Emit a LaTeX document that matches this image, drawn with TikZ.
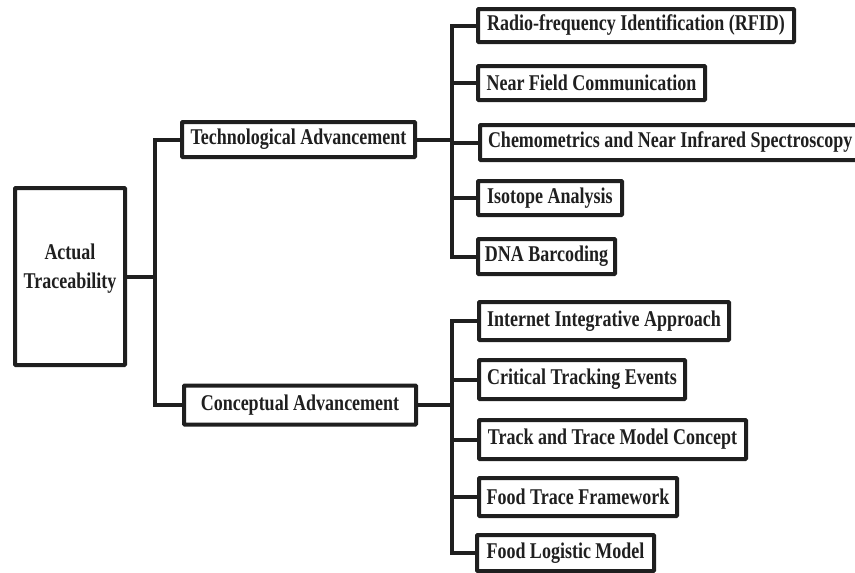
\documentclass[tikz,border=0pt]{standalone}
\usepackage{fontspec}
\setmainfont{Liberation Serif}[FakeStretch=0.8]
\colorlet{ink}{black!88}
\tikzset{
  txt/.style={font=\bfseries\fontsize{22.5}{26}\selectfont, text=ink},
  box/.style={txt, draw=ink, line width=4pt, rounded corners=0.8pt, fill=white,
    inner sep=0pt},
  link/.style={draw=ink, line width=4pt, line join=miter}
}
\begin{document}
\begin{tikzpicture}[x=1pt, y=-1pt]
\useasboundingbox (0,0) rectangle (855,573);

% root
\node[box, minimum width=110pt, minimum height=177pt] (root) at (70,276.5) {};
\node[txt, align=center] (roottext) at ([yshift=8pt]root.center) {Actual\\[3pt]Traceability};

% second level
\node[box, minimum width=233pt, minimum height=35pt] (tech) at (298.5,139.5) {Technological Advancement};
\node[box, minimum width=232pt, minimum height=39pt] (concept) at (300,405) {Conceptual Advancement};

% technological leaves (the widest one runs past the right margin)
\node[box, minimum width=316pt, minimum height=33pt] (rfid) at (636,25.5) {Radio-frequency Identification (RFID)};
\node[box, minimum width=227pt, minimum height=34pt] (nfc) at (591.5,83) {Near Field Communication};
\node[box, minimum height=35pt, anchor=west, inner xsep=8pt] (chemo) at (478,142.5) {Chemometrics and Near Infrared Spectroscopy\hspace*{24pt}};
\node[box, minimum width=144pt, minimum height=34pt] (iso) at (550,198) {Isotope Analysis};
\node[box, minimum width=137pt, minimum height=35pt] (dna) at (546.5,256.5) {DNA Barcoding};

% conceptual leaves
\node[box, minimum width=250pt, minimum height=38pt] (inet) at (604,321) {Internet Integrative Approach};
\node[box, minimum width=206pt, minimum height=39pt] (cte) at (582,379.5) {Critical Tracking Events};
\node[box, minimum width=267pt, minimum height=39pt] (track) at (612.5,439.5) {Track and Trace Model Concept};
\node[box, minimum width=198pt, minimum height=38pt] (ftf) at (578,497) {Food Trace Framework};
\node[box, minimum width=177pt, minimum height=36pt] (flm) at (565.5,553) {Food Logistic Model};

% junction columns
\coordinate (trunk) at (155,0);
\coordinate (tbus) at (452,0);

% root to second level
\draw[link] (root.east) -- (root.east -| trunk);
\draw[link] (tech.west) -- (tech.west -| trunk) -- (concept.west -| trunk) -- (concept.west);

% technological branch
\draw[link] (tech.east) -- (tech.east -| tbus);
\draw[link] (rfid.west) -- (rfid.west -| tbus) -- (dna.west -| tbus) -- (dna.west);
\foreach \n in {nfc,chemo,iso} \draw[link] (\n.west) -- (\n.west -| tbus);

% conceptual branch
\draw[link] (concept.east) -- (concept.east -| tbus);
\draw[link] (inet.west) -- (inet.west -| tbus) -- (flm.west -| tbus) -- (flm.west);
\foreach \n in {cte,track,ftf} \draw[link] (\n.west) -- (\n.west -| tbus);
\end{tikzpicture}
\end{document}
